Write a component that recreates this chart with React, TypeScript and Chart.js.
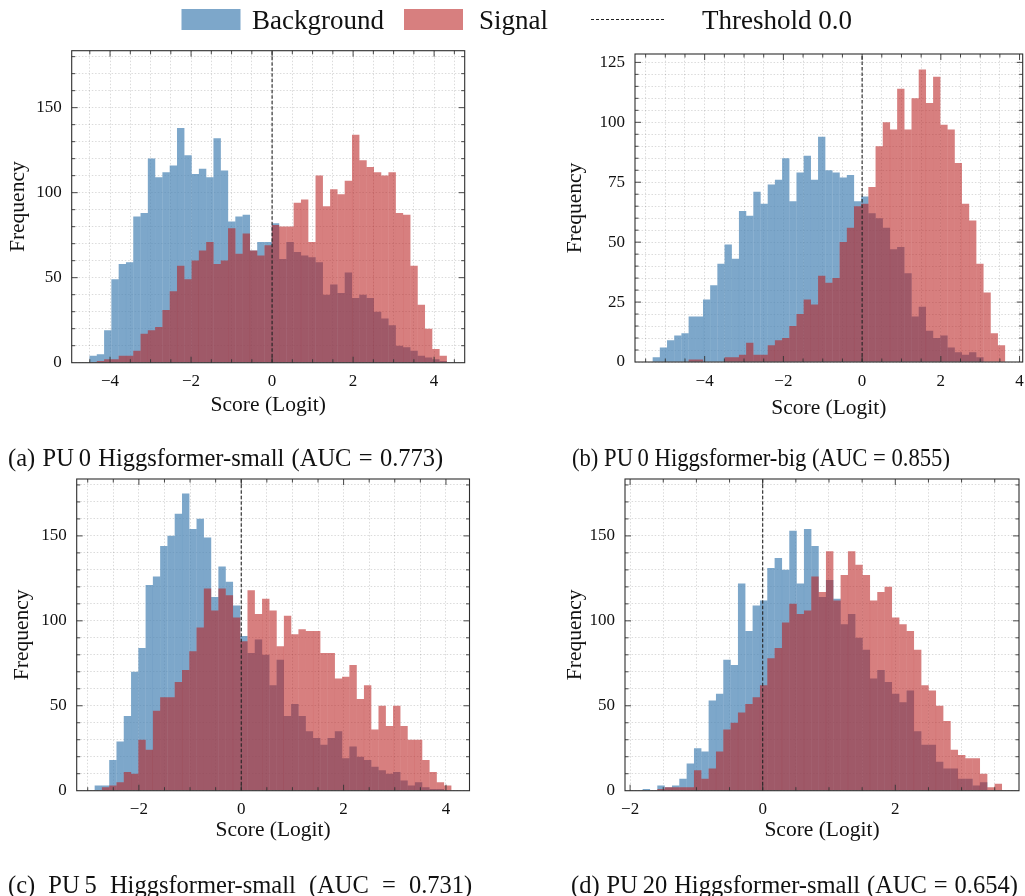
import React, { useEffect, useRef } from 'react';
import { Chart, registerables } from 'chart.js';

Chart.register(...registerables);

const FONT = "'Liberation Serif', 'Times New Roman', serif";
const BLUE = 'rgba(70, 130, 180, 0.7)';
const RED = 'rgba(185, 30, 30, 0.57)';
const GRID = 'rgba(0, 0, 0, 0.18)';
const INK = '#111111';

const threshold = 0.0;

// (a) PU 0 Higgsformer-small — 49 bins over the shared score range
const binRangeA = [-4.506, 4.314];
const backgroundA = [4, 5, 19, 49, 58, 59, 86, 88, 120, 109, 112, 116, 138, 122, 111, 114, 109, 132, 113, 83, 86, 87, 66, 71, 71, 82, 61, 71, 65, 63, 62, 59, 40, 46, 41, 53, 38, 40, 38, 30, 26, 22, 10, 9, 7, 4, 3, 2, 1];
const signalA = [0, 1, 2, 2, 4, 4, 7, 17, 19, 21, 31, 42, 57, 49, 60, 66, 71, 58, 60, 79, 64, 76, 66, 63, 69, 81, 80, 80, 94, 96, 71, 110, 92, 102, 99, 107, 134, 119, 115, 112, 110, 112, 88, 87, 57, 34, 20, 8, 4];
const xLimitsA = [-4.947, 4.755];
const yMaxA = 183.5;
const xTickLabelsA = [-4, -2, 0, 2, 4];
const yTickLabelsA = [0, 50, 100, 150];

// (b) PU 0 Higgsformer-big
const binRangeB = [-5.32, 3.632];
const backgroundB = [2, 6, 9, 11, 12, 19, 19, 26, 32, 41, 49, 43, 63, 61, 71, 66, 74, 76, 85, 67, 79, 86, 76, 94, 80, 79, 77, 78, 67, 69, 62, 60, 56, 47, 48, 37, 19, 23, 13, 10, 11, 6, 4, 3, 4, 2, 0, 0, 0];
const signalB = [0, 0, 0, 0, 0, 1, 1, 0, 0, 0, 2, 2, 3, 8, 3, 3, 7, 9, 10, 15, 20, 26, 24, 36, 33, 35, 50, 56, 65, 66, 73, 90, 100, 97, 114, 97, 110, 122, 108, 119, 99, 97, 83, 66, 59, 41, 29, 12, 7];
const xLimitsB = [-5.77, 4.08];
const yMaxB = 128.5;
const xTickLabelsB = [-4, -2, 0, 2, 4];
const yTickLabelsB = [0, 25, 50, 75, 100, 125];

// (c) PU 5 Higgsformer-small
const binRangeC = [-2.863, 4.105];
const backgroundC = [3, 3, 18, 29, 44, 70, 84, 121, 126, 144, 150, 163, 175, 154, 160, 149, 114, 132, 123, 109, 91, 81, 89, 80, 62, 77, 44, 51, 44, 35, 31, 27, 31, 35, 19, 26, 20, 18, 14, 12, 10, 11, 6, 3, 5, 2, 1, 1, 0];
const signalC = [0, 2, 3, 5, 11, 10, 30, 24, 47, 55, 55, 64, 71, 82, 96, 119, 106, 119, 115, 102, 88, 118, 104, 113, 106, 85, 103, 92, 95, 94, 94, 81, 81, 66, 67, 74, 54, 62, 36, 50, 38, 50, 38, 30, 30, 18, 11, 5, 3];
const xLimitsC = [-3.215, 4.46];
const yMaxC = 183.5;
const xTickLabelsC = [-2, 0, 2, 4];
const yTickLabelsC = [0, 50, 100, 150];

// (d) PU 20 Higgsformer-small
const binRangeD = [-1.81, 3.609];
const backgroundD = [1, 0, 3, 2, 3, 7, 16, 25, 23, 53, 57, 77, 74, 122, 94, 109, 112, 131, 137, 130, 153, 122, 154, 144, 114, 124, 113, 98, 104, 90, 83, 66, 71, 64, 57, 52, 59, 35, 27, 27, 17, 13, 13, 7, 7, 3, 5, 0, 0];
const signalD = [0, 0, 1, 2, 2, 2, 2, 12, 7, 13, 23, 36, 40, 46, 51, 55, 62, 78, 84, 99, 110, 104, 106, 126, 117, 141, 112, 127, 141, 133, 127, 112, 117, 120, 102, 98, 94, 83, 62, 59, 50, 41, 24, 21, 19, 19, 10, 2, 4];
const xLimitsD = [-2.077, 3.866];
const yMaxD = 183.5;
const xTickLabelsD = [-2, 0, 2];
const yTickLabelsD = [0, 50, 100, 150];

type Box = { x: number; y: number; w: number; h: number };
type Plot = { L: number; T: number; R: number; B: number };
type Spec = {
  range: number[];
  background: number[];
  signal: number[];
  xLim: number[];
  yMax: number;
  xMajor: number[];
  yMajor: number[];
  xMinor: number;
  yMinor: number;
  canvas: Box;
  plot: Plot;
  yTitleX: number;
  xTitleY: number;
};

const PANELS: Spec[] = [
  {
    range: binRangeA, background: backgroundA, signal: signalA, xLim: xLimitsA, yMax: yMaxA,
    xMajor: xTickLabelsA, yMajor: yTickLabelsA, xMinor: 0.5, yMinor: 10,
    canvas: { x: 0, y: 40, w: 476, h: 390 }, plot: { L: 71.7, T: 50.7, R: 464.7, B: 362.7 },
    yTitleX: 18, xTitleY: 405,
  },
  {
    range: binRangeB, background: backgroundB, signal: signalB, xLim: xLimitsB, yMax: yMaxB,
    xMajor: xTickLabelsB, yMajor: yTickLabelsB, xMinor: 0.5, yMinor: 5,
    canvas: { x: 560, y: 40, w: 465, h: 390 }, plot: { L: 635, T: 54, R: 1022.7, B: 362 },
    yTitleX: 575, xTitleY: 408,
  },
  {
    range: binRangeC, background: backgroundC, signal: signalC, xLim: xLimitsC, yMax: yMaxC,
    xMajor: xTickLabelsC, yMajor: yTickLabelsC, xMinor: 0.5, yMinor: 10,
    canvas: { x: 0, y: 470, w: 480, h: 385 }, plot: { L: 76.7, T: 479, R: 469.5, B: 790.7 },
    yTitleX: 22, xTitleY: 830,
  },
  {
    range: binRangeD, background: backgroundD, signal: signalD, xLim: xLimitsD, yMax: yMaxD,
    xMajor: xTickLabelsD, yMajor: yTickLabelsD, xMinor: 0.5, yMinor: 10,
    canvas: { x: 560, y: 470, w: 465, h: 385 }, plot: { L: 625, T: 479, R: 1019, B: 790.7 },
    yTitleX: 575, xTitleY: 830,
  },
];

function binCenters(range: number[], n: number): number[] {
  const w = (range[1] - range[0]) / n;
  const out: number[] = [];
  for (let i = 0; i < n; i++) out.push(range[0] + (i + 0.5) * w);
  return out;
}

function gridValues(lo: number, hi: number, step: number): number[] {
  const out: number[] = [];
  const a = Math.ceil(lo / step - 1e-9);
  const b = Math.floor(hi / step + 1e-9);
  for (let k = a; k <= b; k++) out.push(+(k * step).toFixed(6));
  return out;
}

const isIn = (list: number[], v: number) => list.some((m) => Math.abs(m - v) < 1e-6);
const fmt = (v: number) => (v < 0 ? '\u2212' + Math.abs(v) : String(Math.abs(v)));

function makeFramePlugin(spec: Spec) {
  return {
    id: 'frameTicks',
    afterDatasetsDraw(chart: any) {
      const { ctx, chartArea } = chart;
      const { left, right, top, bottom } = chartArea;
      const xs = chart.scales.x;
      const ys = chart.scales.y;
      ctx.save();
      ctx.strokeStyle = '#333333';
      ctx.lineWidth = 0.9;
      ctx.beginPath();
      for (const t of xs.ticks) {
        const v = t.value;
        if (v <= xs.min || v >= xs.max) continue;
        const px = xs.getPixelForValue(v);
        const len = isIn(spec.xMajor, v) ? 6 : 3.5;
        ctx.moveTo(px, bottom);
        ctx.lineTo(px, bottom - len);
        ctx.moveTo(px, top);
        ctx.lineTo(px, top + len);
      }
      for (const t of ys.ticks) {
        const v = t.value;
        if (v <= ys.min || v >= ys.max) continue;
        const py = ys.getPixelForValue(v);
        const len = isIn(spec.yMajor, v) ? 6 : 3.5;
        ctx.moveTo(left, py);
        ctx.lineTo(left + len, py);
        ctx.moveTo(right, py);
        ctx.lineTo(right - len, py);
      }
      ctx.stroke();
      ctx.lineWidth = 1.1;
      ctx.strokeStyle = '#2e2e2e';
      ctx.strokeRect(left, top, right - left, bottom - top);
      ctx.restore();
    },
  };
}

function Panel({ spec }: { spec: Spec }) {
  const ref = useRef<HTMLCanvasElement>(null);
  useEffect(() => {
    const canvas = ref.current;
    if (!canvas) return;
    const centers = binCenters(spec.range, spec.background.length);
    const { canvas: cb, plot } = spec;
    const titleFont = { family: FONT, size: 21.5, lineHeight: 1.2 };
    const tickFont = { family: FONT, size: 17, lineHeight: 1.2 };
    const halfTitle = (21.5 * 1.2) / 2;
    const barCommon = {
      type: 'bar',
      borderWidth: 0,
      categoryPercentage: 1,
      barPercentage: 1,
      grouped: false,
      inflateAmount: 0.06,
    };
    const chart = new Chart(canvas, {
      type: 'bar',
      data: {
        datasets: [
          {
            type: 'line',
            label: 'Threshold 0.0',
            data: [
              { x: threshold, y: 0 },
              { x: threshold, y: spec.yMax },
            ],
            borderColor: '#222222',
            borderWidth: 1.1,
            borderDash: [3.5, 2],
            pointRadius: 0,
            fill: false,
            order: 0,
          } as any,
          {
            ...barCommon,
            label: 'Signal',
            data: centers.map((c, i) => ({ x: c, y: spec.signal[i] })),
            backgroundColor: RED,
            order: 1,
          } as any,
          {
            ...barCommon,
            label: 'Background',
            data: centers.map((c, i) => ({ x: c, y: spec.background[i] })),
            backgroundColor: BLUE,
            order: 2,
          } as any,
        ],
      },
      options: {
        animation: false,
        responsive: false,
        devicePixelRatio: 1,
        events: [],
        layout: {
          padding: {
            left: 0,
            top: plot.T - cb.y,
            right: cb.x + cb.w - plot.R,
            bottom: 0,
          },
        },
        plugins: {
          legend: { display: false },
          tooltip: { enabled: false },
        },
        scales: {
          x: {
            type: 'linear',
            min: spec.xLim[0],
            max: spec.xLim[1],
            offset: false,
            afterFit: (s: any) => {
              s.height = cb.y + cb.h - plot.B;
              s.paddingLeft = 0;
              s.paddingRight = 0;
            },
            afterBuildTicks: (s: any) => {
              s.ticks = gridValues(s.min, s.max, spec.xMinor).map((value) => ({ value }));
            },
            grid: { color: GRID, lineWidth: 0.8, drawTicks: false, offset: false },
            border: { display: false, dash: [1.5, 1.8] },
            ticks: {
              autoSkip: false,
              maxRotation: 0,
              minRotation: 0,
              padding: 9,
              color: INK,
              font: tickFont,
              callback: (v: any) => (isIn(spec.xMajor, Number(v)) ? fmt(Number(v)) : ''),
            },
            title: {
              display: true,
              text: 'Score (Logit)',
              color: INK,
              font: titleFont,
              padding: { top: 0, bottom: cb.y + cb.h - spec.xTitleY - halfTitle },
            },
          },
          y: {
            type: 'linear',
            min: 0,
            max: spec.yMax,
            afterFit: (s: any) => {
              s.width = plot.L - cb.x;
              s.paddingTop = 0;
              s.paddingBottom = 0;
            },
            afterBuildTicks: (s: any) => {
              s.ticks = gridValues(s.min, s.max, spec.yMinor).map((value) => ({ value }));
            },
            grid: { color: GRID, lineWidth: 0.8, drawTicks: false },
            border: { display: false, dash: [1.5, 1.8] },
            ticks: {
              autoSkip: false,
              padding: 10,
              color: INK,
              font: tickFont,
              callback: (v: any) => (isIn(spec.yMajor, Number(v)) ? fmt(Number(v)) : ''),
            },
            title: {
              display: true,
              text: 'Frequency',
              color: INK,
              font: titleFont,
              padding: { top: spec.yTitleX - cb.x - halfTitle, bottom: 0 },
            },
          },
        },
      } as any,
      plugins: [makeFramePlugin(spec)],
    });
    return () => chart.destroy();
  }, [spec]);
  return (
    <canvas
      ref={ref}
      width={spec.canvas.w}
      height={spec.canvas.h}
      style={{
        position: 'absolute',
        left: spec.canvas.x,
        top: spec.canvas.y,
        width: spec.canvas.w,
        height: spec.canvas.h,
      }}
    />
  );
}

const CAPTIONS = [
  { text: '(a) PU\u20090 Higgsformer-small (AUC = 0.773)', x: 8, y: 466, wordSpacing: 1.2 },
  { text: '(b) PU\u20090 Higgsformer-big (AUC = 0.855)', x: 572, y: 466, len: 378 },
  { text: '(c) PU\u20095 Higgsformer-small (AUC = 0.731)', x: 8, y: 893, wordSpacing: 7 },
  { text: '(d) PU\u200920 Higgsformer-small (AUC = 0.654)', x: 571, y: 893, wordSpacing: 0.8 },
];

export default function App() {
  return (
    <div
      style={{
        position: 'absolute',
        left: 0,
        top: 0,
        width: 1025,
        height: 896,
        background: '#ffffff',
        overflow: 'hidden',
      }}
    >
      {PANELS.map((p, i) => (
        <Panel key={i} spec={p} />
      ))}
      <svg
        width={1025}
        height={896}
        style={{ position: 'absolute', left: 0, top: 0, pointerEvents: 'none' }}
        fontFamily={FONT}
      >
        <rect x={181.5} y={9} width={59} height={21} fill={BLUE} />
        <text x={252} y={29} fontSize={27} fill={INK}>Background</text>
        <rect x={404} y={9} width={59} height={21} fill={RED} />
        <text x={479} y={29} fontSize={27} fill={INK}>Signal</text>
        <line x1={591} x2={664} y1={19.5} y2={19.5} stroke="#222" strokeWidth={1.2} strokeDasharray="3 2" />
        <text x={702} y={29} fontSize={27} fill={INK}>Threshold 0.0</text>
        {CAPTIONS.map((c, i) =>
          c.len ? (
            <text key={i} x={c.x} y={c.y} fontSize={24.5} fill={INK} textLength={c.len} lengthAdjust="spacingAndGlyphs">
              {c.text}
            </text>
          ) : (
            <text key={i} x={c.x} y={c.y} fontSize={24.5} fill={INK} style={{ wordSpacing: `${c.wordSpacing}px` }}>
              {c.text}
            </text>
          )
        )}
      </svg>
    </div>
  );
}
